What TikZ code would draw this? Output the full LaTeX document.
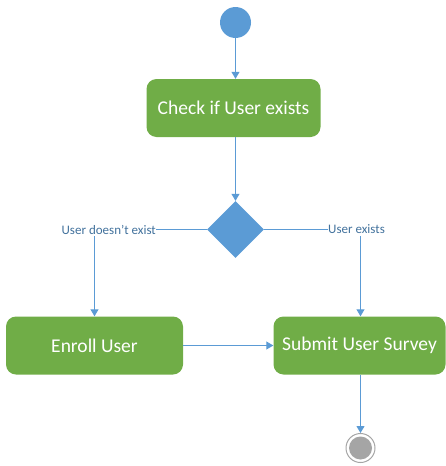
\documentclass[tikz,border=0pt]{standalone}
\usepackage{fontspec}
\setmainfont{Carlito}
\usetikzlibrary{shapes.geometric}
\usetikzlibrary{arrows.meta}
\definecolor{actgreen}{HTML}{70AD47}
\definecolor{flowblue}{HTML}{5B9BD5}
\definecolor{lblblue}{HTML}{41719C}
\definecolor{endgrey}{HTML}{A5A5A5}
\tikzstyle{activity}=[rectangle, rounded corners=10pt, fill=actgreen, draw=none, text=white, font=\fontsize{19.5}{23}\selectfont, minimum width=174pt, minimum height=58pt, inner sep=0pt]
\tikzstyle{decision}=[diamond, fill=flowblue, draw=none, minimum width=57pt, minimum height=57pt, inner sep=0pt]
\tikzstyle{guard}=[text=lblblue, font=\fontsize{13}{15}\selectfont, inner sep=0pt]
\tikzstyle{flow}=[draw=flowblue, line width=1pt, -{Triangle[width=8pt,length=7pt]}]
\tikzstyle{plainflow}=[draw=flowblue, line width=1pt]

\begin{document}
\begin{tikzpicture}[x=1pt,y=-1pt]
	\useasboundingbox (0,0) rectangle (446,466);
	% start and end
	\node[circle, fill=flowblue, minimum size=31pt, inner sep=0pt] (start) at (235.5,22.5) {};
	\node[circle, draw=endgrey, line width=1pt, fill=white, minimum size=29pt, inner sep=0pt] (stop) at (360.5,448) {};
	\fill[endgrey] (stop.center) circle (11.5pt);
	% activities
	\node[activity] (check) at (233.5,108) {Check if User exists};
	\node[decision] (dec) at (235.5,229.5) {};
	\node[activity, minimum width=177pt] (enroll) at (94.5,345.5) {Enroll User};
	\node[activity, minimum width=172pt] (submit) at (359.5,345.5) {Submit User Survey};
	% guards
	\node[guard, anchor=east] (nouser) at (156,229.5) {User doesn’t exist};
	\node[guard, anchor=west] (hasuser) at (328,229.5) {User exists};
	% connectors
	\draw[flow] (start) -- (check.north -| start);
	\draw[flow] (check.south -| dec.north) -- (dec.north);
	\draw[plainflow] (dec.west) -- (nouser.east);
	\draw[plainflow] (dec.east) -- (hasuser.west);
	\draw[flow] ([yshift=-2pt]nouser.south -| enroll.north) -- (enroll.north);
	\draw[flow] ([yshift=-2pt]hasuser.south -| stop.north) -- (submit.north -| stop.north);
	\draw[flow] (enroll.east) -- (submit.west);
	\draw[flow] (submit.south -| stop.north) -- (stop.north);
\end{tikzpicture}
\end{document}
